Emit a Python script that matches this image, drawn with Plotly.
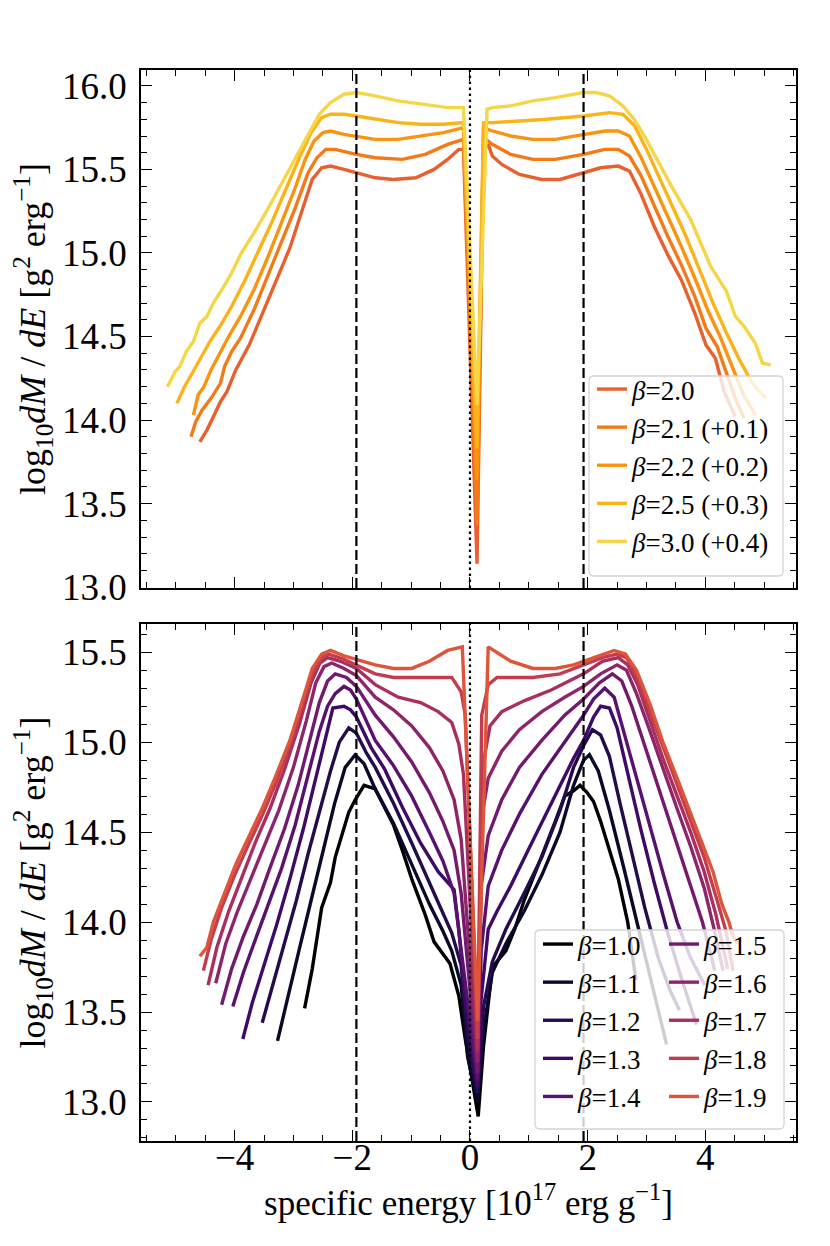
import plotly.graph_objects as go
from plotly.subplots import make_subplots

# ---------------- data ----------------
# top panel: plotted values (offsets already included as in the legend)
x_b20 = [-4.59,-4.47,-4.36,-4.24,-4.13,-3.98,-3.75,-3.52,-3.29,-3.06,-2.83,-2.68,-2.52,-2.37,-2.14,-1.93,-1.61,-1.30,-0.92,-0.61,-0.38,-0.19,-0.11,0.12,0.23,0.31,0.38,0.54,0.84,1.22,1.53,1.93,2.22,2.52,2.71,2.91,3.13,3.36,3.59,3.82,4.01,4.17,4.32,4.51]
y_b20 = [13.87,13.94,14.02,14.11,14.17,14.30,14.45,14.64,14.84,15.03,15.28,15.44,15.51,15.52,15.50,15.48,15.45,15.44,15.45,15.50,15.56,15.62,15.62,13.14,15.61,15.65,15.58,15.53,15.47,15.44,15.44,15.48,15.51,15.52,15.49,15.35,15.16,14.99,14.84,14.64,14.45,14.37,14.17,14.02]

x_b21 = [-4.74,-4.66,-4.55,-4.40,-4.24,-4.17,-4.05,-3.90,-3.67,-3.44,-3.21,-2.98,-2.75,-2.60,-2.45,-2.29,-1.93,-1.61,-1.15,-0.76,-0.38,-0.11,0.12,0.23,0.38,0.69,1.07,1.45,1.93,2.29,2.52,2.71,2.91,3.13,3.36,3.59,3.82,4.01,4.20,4.38,4.52,4.66]
y_b21 = [13.90,13.99,14.06,14.13,14.22,14.32,14.41,14.49,14.66,14.86,15.05,15.26,15.48,15.57,15.62,15.62,15.59,15.57,15.56,15.59,15.65,15.68,13.37,15.69,15.65,15.59,15.56,15.56,15.59,15.62,15.62,15.58,15.46,15.28,15.10,14.93,14.74,14.55,14.44,14.26,14.12,14.01]

x_b22 = [-4.70,-4.62,-4.52,-4.40,-4.25,-4.10,-3.90,-3.67,-3.44,-3.21,-2.98,-2.80,-2.65,-2.50,-2.37,-2.14,-1.93,-1.61,-1.22,-0.84,-0.45,-0.11,0.12,0.23,0.38,0.69,1.07,1.45,1.93,2.29,2.52,2.71,2.91,3.13,3.36,3.59,3.82,4.05,4.25,4.45,4.65,4.85]
y_b22 = [14.03,14.15,14.20,14.30,14.40,14.50,14.62,14.78,14.97,15.17,15.38,15.56,15.67,15.72,15.73,15.71,15.70,15.68,15.68,15.70,15.72,15.75,13.64,15.75,15.73,15.70,15.68,15.68,15.71,15.73,15.73,15.70,15.57,15.40,15.22,15.04,14.85,14.65,14.50,14.32,14.15,14.03]

x_b25 = [-4.98,-4.85,-4.72,-4.58,-4.42,-4.25,-4.05,-3.82,-3.59,-3.36,-3.13,-2.90,-2.70,-2.52,-2.37,-2.14,-1.93,-1.61,-1.22,-0.84,-0.45,-0.11,0.12,0.23,0.38,0.84,1.30,1.93,2.37,2.60,2.80,3.00,3.21,3.44,3.67,3.90,4.13,4.36,4.58,4.80,5.03]
y_b25 = [14.10,14.20,14.28,14.37,14.47,14.56,14.68,14.84,15.01,15.19,15.38,15.57,15.72,15.81,15.83,15.83,15.82,15.80,15.78,15.77,15.77,15.78,13.83,15.78,15.78,15.79,15.80,15.82,15.84,15.83,15.76,15.62,15.46,15.28,15.10,14.90,14.70,14.52,14.36,14.22,14.13]

x_b30 = [-5.14,-5.01,-4.93,-4.82,-4.70,-4.59,-4.47,-4.36,-4.20,-4.05,-3.90,-3.67,-3.44,-3.21,-2.98,-2.75,-2.56,-2.37,-2.14,-1.93,-1.61,-1.22,-0.84,-0.38,-0.11,0.12,0.29,0.38,0.69,1.07,1.45,1.93,2.14,2.37,2.60,2.79,2.98,3.21,3.44,3.75,4.09,4.36,4.51,4.66,4.85,4.97,5.11]
y_b30 = [14.20,14.29,14.32,14.41,14.47,14.58,14.62,14.70,14.79,14.88,14.99,15.12,15.26,15.41,15.56,15.71,15.83,15.90,15.95,15.96,15.94,15.91,15.89,15.87,15.87,14.09,15.86,15.87,15.88,15.91,15.93,15.96,15.96,15.94,15.88,15.80,15.69,15.54,15.39,15.20,14.92,14.77,14.62,14.56,14.46,14.34,14.33]

# bottom panel
x_b10 = [-2.81,-2.68,-2.52,-2.37,-2.29,-2.18,-2.06,-1.95,-1.80,-1.61,-1.45,-1.30,-1.15,-0.99,-0.76,-0.61,-0.34,-0.19,-0.08,0.14,0.23,0.38,0.61,0.76,0.92,1.07,1.26,1.45,1.61,1.76,1.87,1.99,2.10,2.22,2.37,2.52,2.68,2.82]
y_b10 = [13.52,13.74,14.08,14.22,14.36,14.48,14.61,14.68,14.76,14.74,14.64,14.54,14.40,14.24,14.04,13.89,13.77,13.59,13.35,12.92,13.31,13.75,13.84,13.96,14.12,14.24,14.40,14.56,14.70,14.73,14.76,14.72,14.67,14.56,14.40,14.24,14.00,13.68]

x_b11 = [-3.27,-3.10,-2.90,-2.70,-2.50,-2.30,-2.12,-1.95,-1.80,-1.61,-1.30,-0.99,-0.69,-0.46,-0.31,-0.15,-0.04,0.13,0.23,0.38,0.61,0.92,1.22,1.53,1.76,1.93,2.03,2.18,2.37,2.60,2.85,3.10,3.34]
y_b11 = [13.34,13.58,13.85,14.12,14.40,14.66,14.86,14.93,14.88,14.74,14.55,14.32,14.10,13.95,13.84,13.65,13.25,13.00,13.40,13.72,13.88,14.06,14.26,14.50,14.76,14.90,14.93,14.84,14.62,14.32,13.98,13.64,13.32]

x_b12 = [-3.53,-3.36,-3.15,-2.95,-2.75,-2.55,-2.37,-2.22,-2.06,-1.93,-1.76,-1.61,-1.30,-0.99,-0.69,-0.46,-0.31,-0.15,-0.04,0.13,0.23,0.38,0.61,0.92,1.22,1.53,1.76,1.93,2.08,2.22,2.37,2.55,2.75,2.97,3.20,3.40,3.56]
y_b12 = [13.44,13.64,13.88,14.12,14.38,14.62,14.84,15.00,15.08,15.05,14.94,14.86,14.66,14.44,14.22,14.04,13.94,13.76,13.37,13.05,13.53,13.78,13.96,14.16,14.36,14.62,14.86,14.98,15.07,15.04,14.92,14.66,14.38,14.08,13.80,13.62,13.51]

x_b13 = [-3.86,-3.70,-3.50,-3.29,-3.06,-2.83,-2.62,-2.45,-2.33,-2.14,-2.03,-1.93,-1.68,-1.45,-1.15,-0.84,-0.54,-0.27,-0.19,-0.08,0.13,0.19,0.31,0.46,0.69,0.99,1.38,1.76,1.93,2.10,2.22,2.37,2.50,2.68,2.90,3.13,3.36,3.60,3.85]
y_b13 = [13.35,13.55,13.76,13.98,14.24,14.52,14.80,15.02,15.19,15.20,15.18,15.14,14.97,14.85,14.64,14.44,14.28,14.18,13.96,13.57,13.08,13.57,13.96,14.06,14.20,14.40,14.66,14.91,15.01,15.14,15.20,15.19,15.08,14.82,14.52,14.22,13.94,13.68,13.43]

x_b14 = [-4.03,-3.85,-3.65,-3.42,-3.20,-2.97,-2.75,-2.56,-2.42,-2.29,-2.14,-2.03,-1.93,-1.61,-1.30,-0.99,-0.69,-0.46,-0.27,-0.15,0.13,0.19,0.31,0.54,0.84,1.22,1.61,1.93,2.10,2.29,2.45,2.62,2.83,3.06,3.29,3.52,3.75,3.99]
y_b14 = [13.53,13.72,13.90,14.10,14.30,14.54,14.82,15.06,15.20,15.27,15.31,15.29,15.24,15.01,14.87,14.70,14.50,14.34,14.16,13.84,13.12,13.84,14.20,14.40,14.60,14.82,15.00,15.15,15.24,15.30,15.25,15.05,14.80,14.52,14.26,14.00,13.80,13.65]

x_b15 = [-4.22,-4.05,-3.85,-3.62,-3.40,-3.15,-2.92,-2.72,-2.56,-2.42,-2.29,-2.10,-1.93,-1.61,-1.30,-0.99,-0.69,-0.46,-0.27,-0.15,0.13,0.19,0.31,0.54,0.84,1.22,1.61,1.93,2.20,2.42,2.58,2.75,2.97,3.20,3.45,3.70,3.95,4.16]
y_b15 = [13.54,13.74,13.92,14.10,14.30,14.52,14.76,15.02,15.22,15.34,15.38,15.36,15.31,15.15,15.03,14.89,14.72,14.56,14.40,14.16,13.16,14.20,14.48,14.68,14.86,15.01,15.15,15.24,15.33,15.38,15.34,15.20,14.98,14.75,14.50,14.26,14.00,13.73]

x_b16 = [-4.32,-4.15,-3.95,-3.75,-3.50,-3.25,-3.00,-2.78,-2.62,-2.48,-2.35,-2.14,-1.93,-1.61,-1.30,-0.99,-0.69,-0.46,-0.27,-0.15,0.13,0.19,0.31,0.54,0.84,1.22,1.61,1.93,2.22,2.50,2.66,2.83,3.06,3.29,3.52,3.75,3.98,4.15,4.30]
y_b16 = [13.66,13.88,14.06,14.22,14.42,14.62,14.86,15.12,15.33,15.42,15.44,15.41,15.37,15.25,15.18,15.09,14.97,14.84,14.68,14.46,13.22,14.56,14.80,14.95,15.07,15.17,15.25,15.31,15.38,15.43,15.40,15.27,15.06,14.84,14.63,14.42,14.19,13.96,13.73]

x_b17 = [-4.45,-4.30,-4.10,-3.90,-3.65,-3.40,-3.15,-2.90,-2.70,-2.55,-2.42,-2.20,-1.93,-1.61,-1.22,-0.84,-0.54,-0.31,-0.19,-0.11,0.13,0.23,0.34,0.54,0.92,1.38,1.93,2.25,2.52,2.68,2.85,3.06,3.29,3.52,3.75,3.98,4.18,4.38]
y_b17 = [13.65,13.86,14.06,14.23,14.44,14.63,14.85,15.10,15.33,15.44,15.47,15.45,15.41,15.32,15.25,15.22,15.17,15.11,14.99,14.82,13.28,14.89,15.09,15.17,15.23,15.29,15.38,15.45,15.47,15.43,15.32,15.12,14.90,14.70,14.50,14.28,14.04,13.74]

x_b18 = [-4.53,-4.40,-4.22,-4.00,-3.75,-3.52,-3.29,-3.06,-2.83,-2.68,-2.52,-2.40,-2.14,-1.93,-1.61,-1.30,-0.84,-0.31,-0.15,-0.08,0.13,0.20,0.31,0.46,1.07,1.53,1.93,2.25,2.50,2.66,2.83,3.06,3.29,3.52,3.75,3.98,4.20,4.35,4.47]
y_b18 = [13.73,13.90,14.08,14.26,14.44,14.60,14.78,14.98,15.22,15.38,15.47,15.49,15.46,15.43,15.38,15.36,15.36,15.36,15.28,15.15,13.35,15.15,15.32,15.36,15.36,15.38,15.43,15.47,15.49,15.47,15.37,15.17,14.96,14.76,14.56,14.36,14.12,13.95,13.73]

x_b19 = [-4.59,-4.47,-4.36,-4.17,-3.98,-3.75,-3.52,-3.29,-3.06,-2.83,-2.68,-2.52,-2.37,-2.14,-1.93,-1.61,-1.30,-0.99,-0.69,-0.38,-0.13,0.13,0.31,0.46,0.69,1.07,1.45,1.76,1.93,2.22,2.45,2.64,2.83,3.06,3.29,3.52,3.75,3.98,4.13,4.28,4.40,4.47,4.55]
y_b19 = [13.81,13.86,14.00,14.16,14.32,14.48,14.64,14.82,15.01,15.25,15.41,15.49,15.51,15.48,15.46,15.43,15.41,15.41,15.45,15.51,15.53,13.45,15.53,15.50,15.45,15.41,15.41,15.43,15.45,15.48,15.51,15.49,15.40,15.21,14.99,14.80,14.60,14.40,14.28,14.10,14.00,13.92,13.88]

top_labels = ["<i>β</i>=2.0", "<i>β</i>=2.1 (+0.1)", "<i>β</i>=2.2 (+0.2)", "<i>β</i>=2.5 (+0.3)", "<i>β</i>=3.0 (+0.4)"]
bot_labels = ["<i>β</i>=1.0", "<i>β</i>=1.1", "<i>β</i>=1.2", "<i>β</i>=1.3", "<i>β</i>=1.4",
              "<i>β</i>=1.5", "<i>β</i>=1.6", "<i>β</i>=1.7", "<i>β</i>=1.8", "<i>β</i>=1.9"]

vline_E = [-1.93, 1.93]
zero_E = [0.0]

# ---------------- styling ----------------
top_colors = ["#e8602d", "#f47a18", "#fa9410", "#fcb31a", "#f5d646"]
bot_colors = ["#000004", "#0d0829", "#230c4c", "#3e0a66", "#58116e",
              "#731a6e", "#8e2469", "#aa2f5e", "#c33d4f", "#de553a"]

FONT = "Liberation Serif"
W, H = 830, 1246
ML, MR, MT, MB = 133, 42, 62, 113
PW = W - ML - MR
PH = H - MT - MB
LW = 3.4

def px2x(p):
    return (p - ML) / PW

def py2y(p):
    return (H - MB - p) / PH

fig = make_subplots(rows=2, cols=1, shared_xaxes=True)

top_x = [x_b20, x_b21, x_b22, x_b25, x_b30]
top_y = [y_b20, y_b21, y_b22, y_b25, y_b30]
for xs, ys, c, lab in zip(top_x, top_y, top_colors, top_labels):
    fig.add_trace(go.Scatter(x=xs, y=ys, mode="lines", name=lab,
                             line=dict(color=c, width=LW), legend="legend"),
                  row=1, col=1)

bot_x = [x_b10, x_b11, x_b12, x_b13, x_b14, x_b15, x_b16, x_b17, x_b18, x_b19]
bot_y = [y_b10, y_b11, y_b12, y_b13, y_b14, y_b15, y_b16, y_b17, y_b18, y_b19]
for i, (xs, ys, c, lab) in enumerate(zip(bot_x, bot_y, bot_colors, bot_labels)):
    fig.add_trace(go.Scatter(x=xs, y=ys, mode="lines", name=lab,
                             line=dict(color=c, width=LW),
                             legend="legend2" if i < 5 else "legend3"),
                  row=2, col=1)

shapes = []
for xr, yr in (("x", "y domain"), ("x2", "y2 domain")):
    for v in vline_E:
        shapes.append(dict(type="line", xref=xr, yref=yr, x0=v, x1=v, y0=0, y1=1,
                           line=dict(color="black", width=2.2, dash="10px,4px"), layer="above"))
    for v in zero_E:
        shapes.append(dict(type="line", xref=xr, yref=yr, x0=v, x1=v, y0=0, y1=1,
                           line=dict(color="black", width=2.2, dash="2.5px,3.5px"), layer="above"))

def rounded_box(l, t, r, b, rad=5):
    x0, x1 = px2x(l), px2x(r)
    y0, y1 = py2y(b), py2y(t)
    rx, ry = rad / PW, rad / PH
    path = (f"M{x0+rx},{y1} L{x1-rx},{y1} Q{x1},{y1} {x1},{y1-ry} "
            f"L{x1},{y0+ry} Q{x1},{y0} {x1-rx},{y0} L{x0+rx},{y0} "
            f"Q{x0},{y0} {x0},{y0+ry} L{x0},{y1-ry} Q{x0},{y1} {x0+rx},{y1} Z")
    return dict(type="path", xref="paper", yref="paper", path=path,
                fillcolor="rgba(255,255,255,0.8)", line=dict(color="#d4d4d4", width=1.3),
                layer="above")

shapes.append(rounded_box(581, 368, 775, 568))
shapes.append(rounded_box(527, 922, 776, 1121))

TICKFONT = dict(family=FONT, size=37, color="black")
axis_common = dict(showline=True, linecolor="black", linewidth=1.6, mirror="ticks",
                   ticks="inside", ticklen=11, tickwidth=1.4, tickcolor="black",
                   showgrid=False, zeroline=False)

xr = [-5.59, 5.54]
fig.update_xaxes(**axis_common, range=xr, tick0=0, dtick=2, tickfont=TICKFONT,
                 minor=dict(ticks="inside", ticklen=6, tickwidth=1.2, tickcolor="black", dtick=0.5))
fig.update_xaxes(showticklabels=False, row=1, col=1)
fig.update_xaxes(title=dict(text="specific energy [10<sup>17</sup> erg g<sup>−1</sup>]",
                            font=dict(family=FONT, size=35, color="black"), standoff=0),
                 ticklabelstandoff=-17, row=2, col=1)

ytitle = "log<sub>10</sub><i>dM</i> / <i>dE</i> [g<sup>2</sup> erg<sup>−1</sup>]"
fig.update_yaxes(**axis_common, dtick=0.5, tickformat=".1f", ticklabelstandoff=5, tickfont=TICKFONT,
                 minor=dict(ticks="inside", ticklen=6, tickwidth=1.2, tickcolor="black", dtick=0.1),
                 title=dict(text=ytitle, font=dict(family=FONT, size=36, color="black"), standoff=5))
fig.update_yaxes(range=[12.995, 16.095], tick0=13.0, row=1, col=1)
fig.update_yaxes(range=[12.783, 15.657], tick0=13.0, row=2, col=1)

fig.layout.yaxis.domain = [py2y(580), 1.0]
fig.layout.yaxis2.domain = [0.0, py2y(616)]

leg_common = dict(bgcolor="rgba(0,0,0,0)", borderwidth=0, xanchor="left", yanchor="top",
                  font=dict(family=FONT, size=27, color="black"), tracegroupgap=0)
fig.update_layout(
    width=W, height=H, margin=dict(l=ML, r=MR, t=MT, b=MB),
    paper_bgcolor="white", plot_bgcolor="white",
    font=dict(family=FONT, color="black"),
    shapes=shapes,
    showlegend=True,
    legend=dict(**leg_common, x=px2x(584), y=py2y(357)),
    legend2=dict(**leg_common, x=px2x(530), y=py2y(912)),
    legend3=dict(**leg_common, x=px2x(656), y=py2y(912)),
)

fig.write_html("out.html")
